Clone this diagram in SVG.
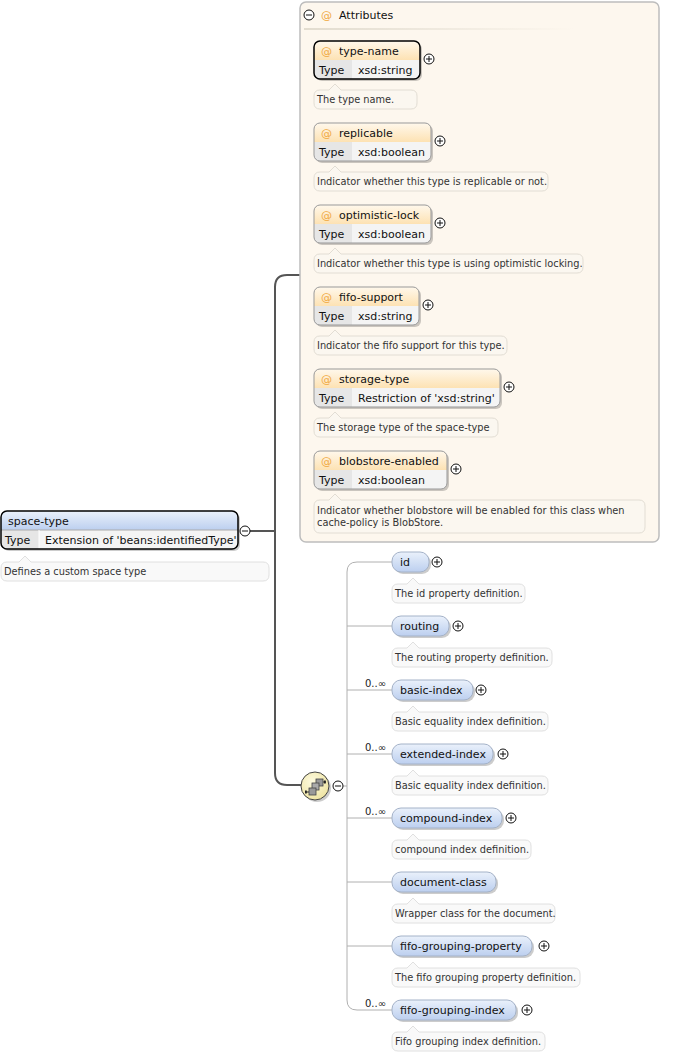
<svg xmlns="http://www.w3.org/2000/svg" width="677" height="1056" viewBox="0 0 677 1056">
<style>
text{font-family:"DejaVu Sans","Liberation Sans",sans-serif;fill:#111}
.nm{font-size:11px}
.an{font-size:9.8px;fill:#333}
.at{font-size:11px;fill:#f0a840}
.occ{font-size:10px;fill:#222}
.ab{fill:#fbf7f0;stroke:#e2ddd4;stroke-width:1}
.ae{fill:#f9f9f9;stroke:#e0e0e0;stroke-width:1}
.sh{fill:#000;opacity:.2}
.tc{fill:#e6e6e6}
.vc{fill:#f4f4f4}
.bd{fill:none;stroke:#999;stroke-width:1}
.bdk{fill:none;stroke:#000;stroke-width:1.5}
.pill{fill:url(#blueG);stroke:#a4b2c8;stroke-width:1}
.pm{fill:#fff;stroke:#111;stroke-width:1}
.pml{stroke:#111;stroke-width:1}
.main{fill:none;stroke:#555;stroke-width:2}
.sub{fill:none;stroke:#b0b0b0;stroke-width:1}
</style>
<defs>
<linearGradient id="blueG" x1="0" y1="0" x2="0" y2="1"><stop offset="0" stop-color="#eaf1fb"/><stop offset="1" stop-color="#bccfef"/></linearGradient>
<linearGradient id="orG" x1="0" y1="0" x2="0" y2="1"><stop offset="0" stop-color="#fff8ec"/><stop offset="1" stop-color="#fde2b3"/></linearGradient>
<linearGradient id="sepG" x1="0" y1="0" x2="1" y2="0"><stop offset="0" stop-color="#e2dccf"/><stop offset="1" stop-color="#e2dccf" stop-opacity="0"/></linearGradient>
<radialGradient id="yelG" cx="0.4" cy="0.35" r="0.7"><stop offset="0" stop-color="#fdfadf"/><stop offset="1" stop-color="#eee3a0"/></radialGradient>
<g id="plus"><circle r="5" class="pm"/><path d="M-3,0H3M0,-3V3" class="pml"/></g>
<g id="minus"><circle r="5" class="pm"/><path d="M-3,0H3" class="pml"/></g>
</defs>

<g id="connectors">
<path class="main" d="M250,531H275"/>
<path class="main" d="M300,275H287Q275,275 275,287V773Q275,785 287,785H301"/>
<path class="sub" d="M343,786H347"/>
<path class="sub" d="M392,562H357Q347,562 347,572V1000Q347,1010 357,1010H392"/>
<path class="sub" d="M347,626H392M347,690H392M347,754H392M347,818H392M347,882H392M347,946H392"/>
</g>

<g id="space-type">
<rect class="sh" x="3" y="513" width="237" height="38" rx="6"/>
<rect class="vc" x="1" y="511" width="237" height="38" rx="6"/>
<path fill="url(#blueG)" d="M1,530V517Q1,511 7,511H232Q238,511 238,517V530Z"/>
<path class="tc" d="M1,530H39V549H7Q1,549 1,543Z"/>
<path d="M1,530H238" stroke="#aaa" stroke-width="1"/>
<path d="M39,530V549" stroke="#fff" stroke-width="1"/>
<rect class="bdk" x="1" y="511" width="237" height="38" rx="6"/>
<text class="nm" x="8" y="525">space-type</text>
<text class="nm" x="5" y="544">Type</text>
<text class="nm" x="45" y="544">Extension of 'beans:identifiedType'</text>
<use href="#minus" x="245" y="531"/>
<path class="ae" d="M7,562H19L25,556L31,562H263Q269,562 269,568V575Q269,581 263,581H7Q1,581 1,575V568Q1,562 7,562Z"/>
<text class="an" x="4" y="575">Defines a custom space type</text>
</g>

<g id="attributes">
<rect x="300" y="2" width="359" height="540" rx="6" fill="#fdf7ee" stroke="#bdbdbd" stroke-width="1.5"/>
<use href="#minus" x="309" y="15"/>
<text class="at" x="321" y="19">@</text>
<text class="nm" x="339" y="19">Attributes</text>
<rect x="304" y="28" width="270" height="2" fill="url(#sepG)"/>
</g>

<g id="attr-type-name">
<rect class="sh" x="316" y="43" width="106" height="38" rx="6"/>
<rect class="vc" x="314" y="41" width="106" height="38" rx="6"/>
<path fill="url(#orG)" d="M314,60V47Q314,41 320,41H414Q420,41 420,47V60Z"/>
<path class="tc" d="M314,60H352V79H320Q314,79 314,73Z"/>
<rect class="bdk" x="314" y="41" width="106" height="38" rx="6"/>
<text class="at" x="321" y="55">@</text>
<text class="nm" x="339" y="55">type-name</text>
<text class="nm" x="319" y="74">Type</text>
<text class="nm" x="358" y="74">xsd:string</text>
<use href="#plus" x="429" y="59"/>
<path class="ab" d="M320,90H329L335,84L341,90H411Q417,90 417,96V103Q417,109 411,109H320Q314,109 314,103V96Q314,90 320,90Z"/>
<text class="an" x="317" y="103">The type name.</text>
</g>

<g id="attr-replicable">
<rect class="sh" x="316" y="125" width="117" height="38" rx="6"/>
<rect class="vc" x="314" y="123" width="117" height="38" rx="6"/>
<path fill="url(#orG)" d="M314,142V129Q314,123 320,123H425Q431,123 431,129V142Z"/>
<path class="tc" d="M314,142H352V161H320Q314,161 314,155Z"/>
<rect class="bd" x="314" y="123" width="117" height="38" rx="6"/>
<text class="at" x="321" y="137">@</text>
<text class="nm" x="339" y="137">replicable</text>
<text class="nm" x="319" y="156">Type</text>
<text class="nm" x="358" y="156">xsd:boolean</text>
<use href="#plus" x="440" y="141"/>
<path class="ab" d="M320,172H329L335,166L341,172H542Q548,172 548,178V185Q548,191 542,191H320Q314,191 314,185V178Q314,172 320,172Z"/>
<text class="an" x="317" y="185">Indicator whether this type is replicable or not.</text>
</g>

<g id="attr-optimistic-lock">
<rect class="sh" x="316" y="207" width="117" height="38" rx="6"/>
<rect class="vc" x="314" y="205" width="117" height="38" rx="6"/>
<path fill="url(#orG)" d="M314,224V211Q314,205 320,205H425Q431,205 431,211V224Z"/>
<path class="tc" d="M314,224H352V243H320Q314,243 314,237Z"/>
<rect class="bd" x="314" y="205" width="117" height="38" rx="6"/>
<text class="at" x="321" y="219">@</text>
<text class="nm" x="339" y="219">optimistic-lock</text>
<text class="nm" x="319" y="238">Type</text>
<text class="nm" x="358" y="238">xsd:boolean</text>
<use href="#plus" x="440" y="223"/>
<path class="ab" d="M320,254H329L335,248L341,254H577Q583,254 583,260V267Q583,273 577,273H320Q314,273 314,267V260Q314,254 320,254Z"/>
<text class="an" x="317" y="267">Indicator whether this type is using optimistic locking.</text>
</g>

<g id="attr-fifo-support">
<rect class="sh" x="316" y="289" width="105" height="38" rx="6"/>
<rect class="vc" x="314" y="287" width="105" height="38" rx="6"/>
<path fill="url(#orG)" d="M314,306V293Q314,287 320,287H413Q419,287 419,293V306Z"/>
<path class="tc" d="M314,306H352V325H320Q314,325 314,319Z"/>
<rect class="bd" x="314" y="287" width="105" height="38" rx="6"/>
<text class="at" x="321" y="301">@</text>
<text class="nm" x="339" y="301">fifo-support</text>
<text class="nm" x="319" y="320">Type</text>
<text class="nm" x="358" y="320">xsd:string</text>
<use href="#plus" x="428" y="305"/>
<path class="ab" d="M320,336H329L335,330L341,336H501Q507,336 507,342V349Q507,355 501,355H320Q314,355 314,349V342Q314,336 320,336Z"/>
<text class="an" x="317" y="349">Indicator the fifo support for this type.</text>
</g>

<g id="attr-storage-type">
<rect class="sh" x="316" y="371" width="186" height="38" rx="6"/>
<rect class="vc" x="314" y="369" width="186" height="38" rx="6"/>
<path fill="url(#orG)" d="M314,388V375Q314,369 320,369H494Q500,369 500,375V388Z"/>
<path class="tc" d="M314,388H352V407H320Q314,407 314,401Z"/>
<rect class="bd" x="314" y="369" width="186" height="38" rx="6"/>
<text class="at" x="321" y="383">@</text>
<text class="nm" x="339" y="383">storage-type</text>
<text class="nm" x="319" y="402">Type</text>
<text class="nm" x="358" y="402">Restriction of 'xsd:string'</text>
<use href="#plus" x="509" y="387"/>
<path class="ab" d="M320,418H329L335,412L341,418H492Q498,418 498,424V431Q498,437 492,437H320Q314,437 314,431V424Q314,418 320,418Z"/>
<text class="an" x="317" y="431">The storage type of the space-type</text>
</g>

<g id="attr-blobstore-enabled">
<rect class="sh" x="316" y="453" width="133" height="38" rx="6"/>
<rect class="vc" x="314" y="451" width="133" height="38" rx="6"/>
<path fill="url(#orG)" d="M314,470V457Q314,451 320,451H441Q447,451 447,457V470Z"/>
<path class="tc" d="M314,470H352V489H320Q314,489 314,483Z"/>
<rect class="bd" x="314" y="451" width="133" height="38" rx="6"/>
<text class="at" x="321" y="465">@</text>
<text class="nm" x="339" y="465">blobstore-enabled</text>
<text class="nm" x="319" y="484">Type</text>
<text class="nm" x="358" y="484">xsd:boolean</text>
<use href="#plus" x="456" y="469"/>
<path class="ab" d="M320,500H329L335,494L341,500H639Q645,500 645,506V527Q645,533 639,533H320Q314,533 314,527V506Q314,500 320,500Z"/>
<text class="an" x="317" y="514">Indicator whether blobstore will be enabled for this class when</text>
<text class="an" x="317" y="526">cache-policy is BlobStore.</text>
</g>

<g id="sequence">
<circle cx="317" cy="788" r="14" class="sh"/>
<circle cx="315" cy="786" r="14" fill="url(#yelG)" stroke="#444" stroke-width="1"/>
<path d="M305,792H309M321,782H326" stroke="#222" stroke-width="1"/>
<rect x="305" y="790.5" width="1.8" height="3" fill="#222"/>
<rect x="324" y="780.5" width="1.8" height="3" fill="#222"/>
<rect x="316" y="779" width="7" height="7" fill="#999" stroke="#444" stroke-width="0.8"/>
<rect x="312" y="783" width="7" height="7" fill="#aaa" stroke="#444" stroke-width="0.8"/>
<rect x="309" y="788" width="7" height="7" fill="#999" stroke="#444" stroke-width="0.8"/>
<use href="#minus" x="338" y="786"/>
</g>

<g id="el-id">
<rect class="sh" x="394" y="554" width="37" height="20" rx="9"/>
<rect class="pill" x="392" y="552" width="37" height="20" rx="9"/>
<text class="nm" x="400" y="566">id</text>
<use href="#plus" x="437" y="562"/>
<path class="ae" d="M398,584H407L413,578L419,584H519Q525,584 525,590V597Q525,603 519,603H398Q392,603 392,597V590Q392,584 398,584Z"/>
<text class="an" x="395" y="597">The id property definition.</text>
</g>

<g id="el-routing">
<rect class="sh" x="394" y="618" width="57" height="20" rx="9"/>
<rect class="pill" x="392" y="616" width="57" height="20" rx="9"/>
<text class="nm" x="400" y="630">routing</text>
<use href="#plus" x="458" y="626"/>
<path class="ae" d="M398,648H407L413,642L419,648H546Q552,648 552,654V661Q552,667 546,667H398Q392,667 392,661V654Q392,648 398,648Z"/>
<text class="an" x="395" y="661">The routing property definition.</text>
</g>

<g id="el-basic-index">
<text class="occ" x="365" y="687">0..∞</text>
<rect class="sh" x="394" y="682" width="81" height="20" rx="9"/>
<rect class="pill" x="392" y="680" width="81" height="20" rx="9"/>
<text class="nm" x="400" y="694">basic-index</text>
<use href="#plus" x="481" y="690"/>
<path class="ae" d="M398,712H407L413,706L419,712H542Q548,712 548,718V725Q548,731 542,731H398Q392,731 392,725V718Q392,712 398,712Z"/>
<text class="an" x="395" y="725">Basic equality index definition.</text>
</g>

<g id="el-extended-index">
<text class="occ" x="365" y="751">0..∞</text>
<rect class="sh" x="394" y="746" width="101" height="20" rx="9"/>
<rect class="pill" x="392" y="744" width="101" height="20" rx="9"/>
<text class="nm" x="400" y="758">extended-index</text>
<use href="#plus" x="503" y="754"/>
<path class="ae" d="M398,776H407L413,770L419,776H542Q548,776 548,782V789Q548,795 542,795H398Q392,795 392,789V782Q392,776 398,776Z"/>
<text class="an" x="395" y="789">Basic equality index definition.</text>
</g>

<g id="el-compound-index">
<text class="occ" x="365" y="815">0..∞</text>
<rect class="sh" x="394" y="810" width="110" height="20" rx="9"/>
<rect class="pill" x="392" y="808" width="110" height="20" rx="9"/>
<text class="nm" x="400" y="822">compound-index</text>
<use href="#plus" x="511" y="818"/>
<path class="ae" d="M398,840H407L413,834L419,840H525Q531,840 531,846V853Q531,859 525,859H398Q392,859 392,853V846Q392,840 398,840Z"/>
<text class="an" x="395" y="853">compound index definition.</text>
</g>

<g id="el-document-class">
<rect class="sh" x="394" y="874" width="104" height="20" rx="9"/>
<rect class="pill" x="392" y="872" width="104" height="20" rx="9"/>
<text class="nm" x="400" y="886">document-class</text>
<path class="ae" d="M398,904H407L413,898L419,904H549Q555,904 555,910V917Q555,923 549,923H398Q392,923 392,917V910Q392,904 398,904Z"/>
<text class="an" x="395" y="917">Wrapper class for the document.</text>
</g>

<g id="el-fifo-grouping-property">
<rect class="sh" x="394" y="938" width="140" height="20" rx="9"/>
<rect class="pill" x="392" y="936" width="140" height="20" rx="9"/>
<text class="nm" x="400" y="950">fifo-grouping-property</text>
<use href="#plus" x="544" y="946"/>
<path class="ae" d="M398,968H407L413,962L419,968H574Q580,968 580,974V981Q580,987 574,987H398Q392,987 392,981V974Q392,968 398,968Z"/>
<text class="an" x="395" y="981">The fifo grouping property definition.</text>
</g>

<g id="el-fifo-grouping-index">
<text class="occ" x="365" y="1007">0..∞</text>
<rect class="sh" x="394" y="1002" width="124" height="20" rx="9"/>
<rect class="pill" x="392" y="1000" width="124" height="20" rx="9"/>
<text class="nm" x="400" y="1014">fifo-grouping-index</text>
<use href="#plus" x="527" y="1010"/>
<path class="ae" d="M398,1032H407L413,1026L419,1032H539Q545,1032 545,1038V1045Q545,1051 539,1051H398Q392,1051 392,1045V1038Q392,1032 398,1032Z"/>
<text class="an" x="395" y="1045">Fifo grouping index definition.</text>
</g>
</svg>
